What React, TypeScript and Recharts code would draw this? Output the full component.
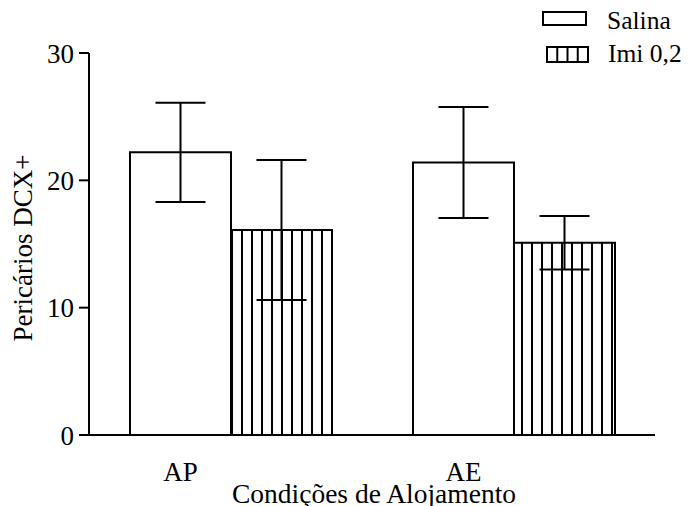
import React from "react";
import { BarChart, Bar, XAxis, YAxis, ErrorBar, Legend } from "recharts";

const categories = ["AP", "AE"];
const salinaValues = [22.2, 21.4];
const salinaErrors = [3.9, 4.35];
const imiValues = [16.1, 15.1];
const imiErrors = [5.5, 2.1];
const yTicks = [0, 10, 20, 30];

const data = categories.map((cat, i) => ({
  cat,
  salina: salinaValues[i],
  salinaErr: salinaErrors[i],
  imi: imiValues[i],
  imiErr: imiErrors[i],
}));

const FONT = "Liberation Serif, Times New Roman, DejaVu Serif, serif";
const txt = { fontFamily: FONT };

const XTick = (props: any) => {
  const { x, y, payload } = props;
  // labels sit under the first bar of each group
  return (
    <text x={x - 50} y={y + 38} textAnchor="middle" style={txt} fontSize={27} fill="#000">
      {payload.value}
    </text>
  );
};

const XTitle = (props: any) => {
  const { viewBox } = props;
  return (
    <text
      x={viewBox.x + viewBox.width / 2 + 2}
      y={viewBox.y + 68}
      textAnchor="middle"
      style={txt}
      fontSize={27.5}
      fill="#000"
    >
      Condições de Alojamento
    </text>
  );
};

const YTitle = (props: any) => {
  const { viewBox } = props;
  const cx = 32;
  const cy = viewBox.y + viewBox.height / 2 + 4;
  return (
    <text
      x={cx}
      y={cy}
      transform={`rotate(-90 ${cx} ${cy})`}
      textAnchor="middle"
      style={txt}
      fontSize={27}
      fill="#000"
    >
      Pericários DCX+
    </text>
  );
};

const LegendBox = () => (
  <svg width={154} height={70} style={{ display: "block" }}>
    <rect x={8} y={12} width={43} height={13} fill="#fff" stroke="#000" strokeWidth={2} />
    <text x={72} y={29} style={txt} fontSize={25.5} fill="#000">
      Salina
    </text>
    <rect x={12} y={47} width={41} height={15} fill="#fff" stroke="#000" strokeWidth={2} />
    {[1, 2, 3].map((k) => (
      <line key={k} x1={12 + (41 / 4) * k} x2={12 + (41 / 4) * k} y1={47} y2={62} stroke="#000" strokeWidth={2} />
    ))}
    <text x={73} y={62} style={txt} fontSize={25.5} fill="#000">
      Imi 0,2
    </text>
  </svg>
);

export default function App() {
  return (
    <div style={{ position: "absolute", left: 0, top: 0, width: 689, height: 506, background: "#fff", fontFamily: FONT }}>
      <BarChart
        width={689}
        height={506}
        data={data}
        margin={{ top: 53, right: 34, bottom: 0, left: 0 }}
        barCategoryGap={41}
        barGap={0}
      >
        <defs>
          <pattern id="vhatch" patternUnits="userSpaceOnUse" width={10} height={10}>
            <rect x={0} y={0} width={10} height={10} fill="#fff" />
            <line x1={2} x2={2} y1={0} y2={10} stroke="#000" strokeWidth={2} />
          </pattern>
        </defs>
        <Legend
          layout="horizontal"
          verticalAlign="middle"
          align="center"
          wrapperStyle={{ left: 535, top: 0, width: 154, height: 70 }}
          content={() => <LegendBox />}
        />
        <XAxis
          dataKey="cat"
          height={71}
          axisLine={{ stroke: "#000", strokeWidth: 2 }}
          tickLine={false}
          tick={<XTick />}
          label={{ content: XTitle }}
        />
        <YAxis
          width={89}
          domain={[0, 30]}
          ticks={yTicks}
          tickSize={10}
          tickMargin={5}
          axisLine={{ stroke: "#000", strokeWidth: 2 }}
          tickLine={{ stroke: "#000", strokeWidth: 2 }}
          tick={{ fill: "#000", fontFamily: FONT, fontSize: 27 }}
          label={{ content: YTitle }}
        />
        <Bar dataKey="salina" fill="#fff" stroke="#000" strokeWidth={2} isAnimationActive={false}>
          <ErrorBar dataKey="salinaErr" width={25} stroke="#000" strokeWidth={2} />
        </Bar>
        <Bar dataKey="imi" fill="url(#vhatch)" stroke="#000" strokeWidth={2} isAnimationActive={false}>
          <ErrorBar dataKey="imiErr" width={25} stroke="#000" strokeWidth={2} />
        </Bar>
      </BarChart>
    </div>
  );
}
